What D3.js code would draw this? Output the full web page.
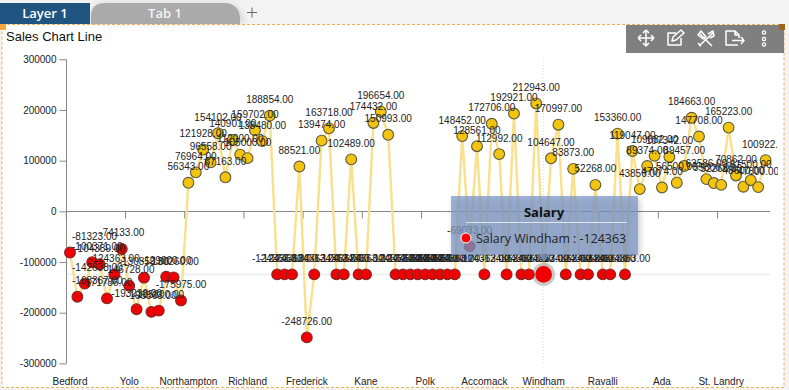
<!DOCTYPE html>
<html><head><meta charset="utf-8">
<script src="https://cdnjs.cloudflare.com/ajax/libs/d3/7.8.5/d3.min.js"></script>
<style>
html,body{margin:0;padding:0;background:#f3f3f3;overflow:hidden}
svg{display:block}
text{font-family:"Liberation Sans",Arial,sans-serif}
</style></head><body><svg id="c" width="789" height="390"></svg>
<script>
const tickLabels=["Bedford","Yolo","Northampton","Richland","Frederick","Kane","Polk","Accomack","Windham","Ravalli","Ada","St. Landry"];
const tickEvery=8;
const yTicks=[300000,200000,100000,0,-100000,-200000,-300000];
const salary=[
-81323,-168367,-142638,-100371,-104389,-171786,-124363,-74133,-146728,-193233,-130859,-198363,-195800,-129000,-130260,-175975,
56343,76964,121928,96558,154102,67163,140901,112000,105000,159702,138480,188854,
-124363,-124363,-124363,88521,-248726,-124363,139474,163718,-124363,-124363,102489,-124363,-124363,174432,196654,150993,
-124363,-124363,-124363,-124363,-124363,-124363,-124363,-124363,-124363,
148452,-69033,128561,-124363,172706,112992,-124363,192921,-124363,-124363,212943,-124363,104647,170997,-124363,83873,-124363,-124363,52268,-124363,-124363,153360,-124363,
119047,43856,89374,109682,47074,107342,56500,89457,184663,147708,63586,55800,52268,165223,70862,48600,61500,47800,100922];
const tooltipTitle="Salary";
const tooltipText="Salary Windham : -124363";
const hoverIndex=64;

const svg=d3.select("#c");
const defs=svg.append("defs");
const blur=defs.append("filter").attr("id","soft").attr("x","-20%").attr("y","-30%").attr("width","140%").attr("height","160%");
blur.append("feGaussianBlur").attr("stdDeviation",3);
// page chrome
svg.append("rect").attr("x",2).attr("y",24).attr("width",782).attr("height",364).attr("fill","#fff");
svg.append("path").attr("d","M91 24V16Q91 3 106 3H223Q243 3 244 24Z").attr("fill","#000").attr("fill-opacity",.12).attr("filter","url(#soft)");
svg.append("rect").attr("x",0).attr("y",3).attr("width",90).attr("height",21).attr("fill","#1f5580");
svg.append("path").attr("d","M91 24V16Q91 3 106 3H223Q240 3 240 20V24Z").attr("fill","#aaaaaa");
svg.append("text").attr("x",45).attr("y",18).attr("text-anchor","middle").attr("fill","#fff").attr("font-size",13).attr("font-weight",600).style("font-family","'Open Sans'").text("Layer 1");
svg.append("text").attr("x",165).attr("y",18).attr("text-anchor","middle").attr("fill","#f4f4f4").attr("font-size",13).attr("font-weight",600).style("font-family","'Open Sans'").text("Tab 1");
svg.append("path").attr("d","M247 12.5H257M252 7.5V17.5").attr("stroke","#666").attr("stroke-width",1).attr("fill","none");
svg.append("rect").attr("x",2).attr("y",24.5).attr("width",782).attr("height",363).attr("fill","none").attr("stroke","#eeb052").attr("stroke-width",1).attr("stroke-dasharray","3 2");
svg.append("rect").attr("x",0).attr("y",24).attr("width",6).attr("height",6).attr("fill","#f5a73c");
svg.append("text").attr("x",6).attr("y",41).attr("fill","#111").attr("font-size",13).text("Sales Chart Line");
// toolbar
svg.append("rect").attr("x",626).attr("y",25).attr("width",158).attr("height",28).attr("fill","#7f7f7f");
svg.append("rect").attr("x",779).attr("y",24).attr("width",6).attr("height",6).attr("fill","#a0661c");
const ic=svg.append("g").attr("fill","none").attr("stroke","#fff").attr("stroke-width",1.5).attr("stroke-linejoin","round");
ic.append("path").attr("d","M646 30V46M638 38H654M646 30l-3 3M646 30l3 3M646 46l-3-3M646 46l3-3M638 38l3-3M638 38l3 3M654 38l-3-3M654 38l-3 3");
ic.append("path").attr("d","M676 33H668V45H681V38M672 41L673 37L681 30L684 33L676 40Z");
ic.append("path").attr("d","M699 33L712 46M713 33L699 46M698 35L701 31L706 37L703 39ZM708 34L713 31L714 36L710 38M698 43L701 46");
ic.append("path").attr("d","M738 45H726V31H735L739 35V38M735 31V35H739M732 40.5H744M741 37L744 40.5L741 44");
ic.append("g").selectAll("circle").data([32.5,39,44.5]).join("circle").attr("cx",764).attr("cy",d=>d).attr("r",1.6).attr("stroke-width",1.2);

// scales
const idx=d3.range(salary.length);
const x=d3.scaleBand().domain(idx).range([66.3,769.3]);
const y=d3.scaleLinear().domain([-300000,300000]).range([363.4,59.3]);
const cx=i=>x(i)+x.bandwidth()/2;
// hover guides
svg.append("line").attr("x1",66).attr("x2",770).attr("y1",y(salary[hoverIndex])).attr("y2",y(salary[hoverIndex])).attr("stroke","#f0f0f0").attr("stroke-width",2);
svg.append("line").attr("x1",cx(hoverIndex)).attr("x2",cx(hoverIndex)).attr("y1",59).attr("y2",363).attr("stroke","#ddd").attr("stroke-width",1).attr("stroke-dasharray","1 2");
// axes
const yAxis=d3.axisLeft(y).tickValues(yTicks).tickFormat(d=>d).tickSize(7).tickPadding(3);
const ga=svg.append("g").attr("transform","translate(66.5,0)").call(yAxis);
ga.selectAll("path,line").attr("stroke","#888");
ga.select(".domain").attr("d",`M0 ${y(300000)}V${y(-300000)}`);
ga.selectAll("text").attr("font-size",10).attr("fill","#222").style("font-family","'Liberation Sans'");
const xg=svg.append("g").attr("transform",`translate(0,${Math.round(y(0))+.5})`);
xg.append("line").attr("x1",66).attr("x2",770).attr("stroke","#888");
xg.selectAll("line.t").data(tickLabels).join("line").attr("class","t").attr("x1",(d,k)=>x(k*tickEvery)).attr("x2",(d,k)=>x(k*tickEvery)).attr("y2",7).attr("stroke","#888");
svg.append("g").selectAll("text").data(tickLabels).join("text").attr("x",(d,k)=>cx(k*tickEvery)).attr("y",384.5).attr("text-anchor","middle").attr("font-size",10).attr("fill","#222").text(d=>d);
// line
svg.append("path").attr("d",d3.line().x(cx).y(i=>y(salary[i]))(idx)).attr("fill","none").attr("stroke","#f8e08c").attr("stroke-width",2.4);
// points
svg.append("circle").attr("cx",cx(hoverIndex)).attr("cy",y(salary[hoverIndex])).attr("r",11.5).attr("fill","#bdbdbd").attr("fill-opacity",.8);
svg.append("g").selectAll("circle").data(idx).join("circle")
 .attr("cx",cx).attr("cy",i=>y(salary[i])).attr("r",i=>i===hoverIndex?8.3:5.4)
 .attr("fill",i=>salary[i]<0?"#f00000":"#f2c40f")
 .attr("stroke",i=>i===hoverIndex?"none":salary[i]<0?"#7e2b2b":"#5c5a3c").attr("stroke-width",1.1);
// labels, kept inside the plot on the left and clipped on the right
const clip=svg.append("clipPath").attr("id","cl").append("rect").attr("x",0).attr("y",0).attr("width",778).attr("height",390);
svg.append("g").attr("clip-path","url(#cl)").selectAll("text").data(idx).join("text")
 .attr("x",cx).attr("y",i=>y(salary[i])-12.5).attr("text-anchor","start").attr("font-size",10).attr("fill","#222")
 .text(i=>salary[i].toFixed(2))
 .attr("x",function(i){return Math.max(72,cx(i)-this.getComputedTextLength()/2);});
// tooltip
const tt=svg.append("g");
const ttPath="M451 196H638V255H549L544 262L539 255H451Z";
tt.append("path").attr("d",ttPath).attr("transform","translate(2,3)").attr("fill","#000").attr("fill-opacity",.2).attr("filter","url(#soft)");
tt.append("path").attr("d",ttPath).attr("fill","#7f9ac8").attr("fill-opacity",.75);
tt.append("text").attr("x",544).attr("y",216.5).attr("text-anchor","middle").attr("font-size",13).attr("font-weight","bold").attr("fill","#111").style("font-family","'Open Sans'").text(tooltipTitle);
tt.append("line").attr("x1",466).attr("x2",627).attr("y1",222.5).attr("y2",222.5).attr("stroke","#dfe6f2");
tt.append("circle").attr("cx",466).attr("cy",238).attr("r",5).attr("fill","#f00").attr("stroke","#fff").attr("stroke-width",1);
tt.append("text").attr("x",476).attr("y",243).attr("font-size",12.4).attr("fill","#222").style("font-family","'Open Sans'").text(tooltipText);
</script></body></html>
